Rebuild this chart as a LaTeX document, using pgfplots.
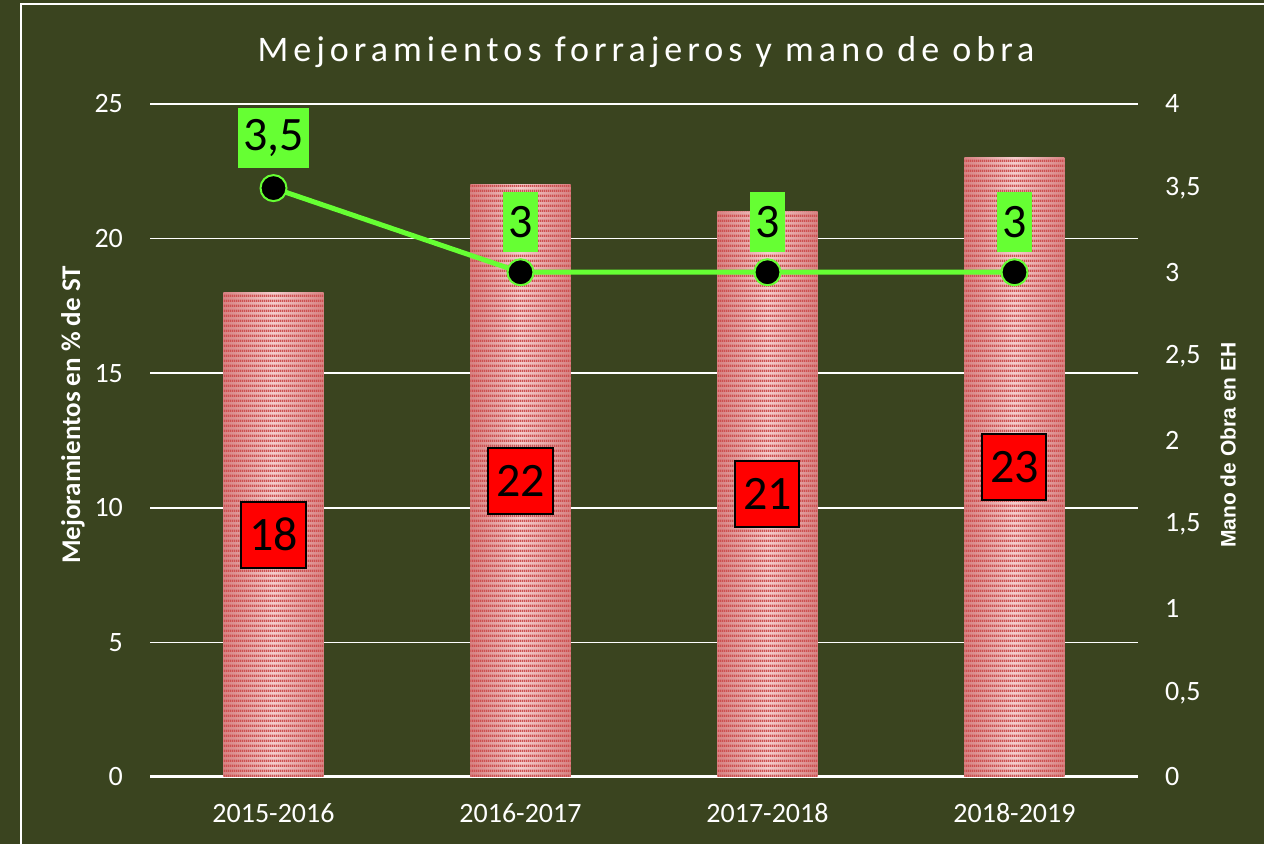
\documentclass[border=0pt]{standalone}
\usepackage{fontspec}
\setmainfont{Carlito}
\newfontfamily\titlefont[LetterSpace=14]{Carlito}
\newfontfamily\arialfont{Liberation Sans}
\usepackage{pgfplots}
\pgfplotsset{compat=1.18}
\usetikzlibrary{patterns.meta}
\tikzdeclarepattern{
  name=hstripes,
  type=uncolored,
  bounding box={(0,0) and (1pt,2.4pt)},
  tile size={(1pt,2.4pt)},
  code={\fill (0,0) rectangle (1pt,1.2pt);}
}
\definecolor{bg}{RGB}{58,68,31}
\definecolor{lgreen}{RGB}{102,255,51}
\definecolor{barpink}{RGB}{245,205,205}
\definecolor{baredge}{RGB}{215,130,130}
\definecolor{barred}{RGB}{205,80,80}
\pgfplotsset{/pgf/number format/use comma}
\begin{document}
\begin{tikzpicture}
\fill[bg] (0,0) rectangle (632pt,422pt);
\useasboundingbox (0,0) rectangle (632pt,422pt);
\draw[white, line width=1pt] (10.5pt,-10pt) rectangle (645pt,420pt);
\node[white, anchor=base, font=\titlefont\fontsize{18}{20}\selectfont] at (323pt,391pt) {Mejoramientos forrajeros y mano de obra};
\node[white, rotate=90, font=\bfseries\fontsize{13.5}{15}\selectfont] at (36.5pt,214.5pt) {Mejoramientos en \% de ST};
\node[white, rotate=90, font=\arialfont\bfseries\fontsize{10.5}{12}\selectfont] at (614pt,199.5pt) {Mano de Obra en EH};

\begin{axis}[at={(75pt,33.5pt)}, anchor=south west, scale only axis,
  width=494pt, height=336.5pt,
  xmin=-0.5, xmax=3.5, ymin=0, ymax=25,
  xtick={0,1,2,3}, xticklabels={2015-2016,2016-2017,2017-2018,2018-2019},
  ytick={0,5,...,25},
  axis x line*=bottom, axis y line*=left,
  x axis line style={white, line width=1.5pt},
  y axis line style={draw=none},
  major tick length=0pt,
  ymajorgrids, grid style={white, line width=0.75pt},
  /pgf/number format/assume math mode=true,
  ticklabel style={white, font=\fontsize{14}{16}\selectfont},
  yticklabel style={anchor=east, xshift=-10pt},
  xticklabel style={anchor=center, yshift=-18pt},
  clip=false]
\pgfplotsset{shadebar/.style={ybar, bar width=50pt, draw=none,
  left color=baredge, right color=baredge, middle color=barpink}}
\addplot[shadebar] coordinates {(0,18)};
\addplot[shadebar] coordinates {(1,22)};
\addplot[shadebar] coordinates {(2,21)};
\addplot[shadebar] coordinates {(3,23)};
\addplot[ybar, bar width=50pt, draw=none,
  pattern=hstripes, pattern color=barred,
  nodes near coords,
  visualization depends on=rawy \as \rawy,
  every node near coord/.append style={anchor=center,
    shift={(axis direction cs:0,-\rawy/2)},
    fill=red, draw=black, line width=1pt, text=black,
    font=\fontsize{24}{26}\selectfont,
    minimum width=32pt, minimum height=33pt, inner sep=0pt}]
  coordinates {(0,18) (1,22) (2,21) (3,23)};
\end{axis}

\begin{axis}[at={(75pt,33.5pt)}, anchor=south west, scale only axis,
  width=494pt, height=336.5pt,
  xmin=-0.5, xmax=3.5, ymin=0, ymax=4,
  axis y line*=right, axis x line=none,
  y axis line style={draw=none},
  ytick={0,0.5,...,4},
  major tick length=0pt,
  /pgf/number format/assume math mode=true,
  ticklabel style={white, font=\fontsize{14}{16}\selectfont},
  yticklabel style={anchor=west, xshift=10pt},
  clip=false]
\addplot[lgreen, line width=2.5pt, mark=*, mark size=6.5pt,
  mark options={fill=black, draw=lgreen, line width=1pt},
  nodes near coords,
  every node near coord/.append style={anchor=center, yshift=25pt,
    fill=lgreen, text=black, font=\fontsize{24}{26}\selectfont,
    inner xsep=2.5pt, inner ysep=0pt, minimum height=30pt}]
  coordinates {(0,3.5) (1,3) (2,3) (3,3)};
\end{axis}
\end{tikzpicture}
\end{document}
